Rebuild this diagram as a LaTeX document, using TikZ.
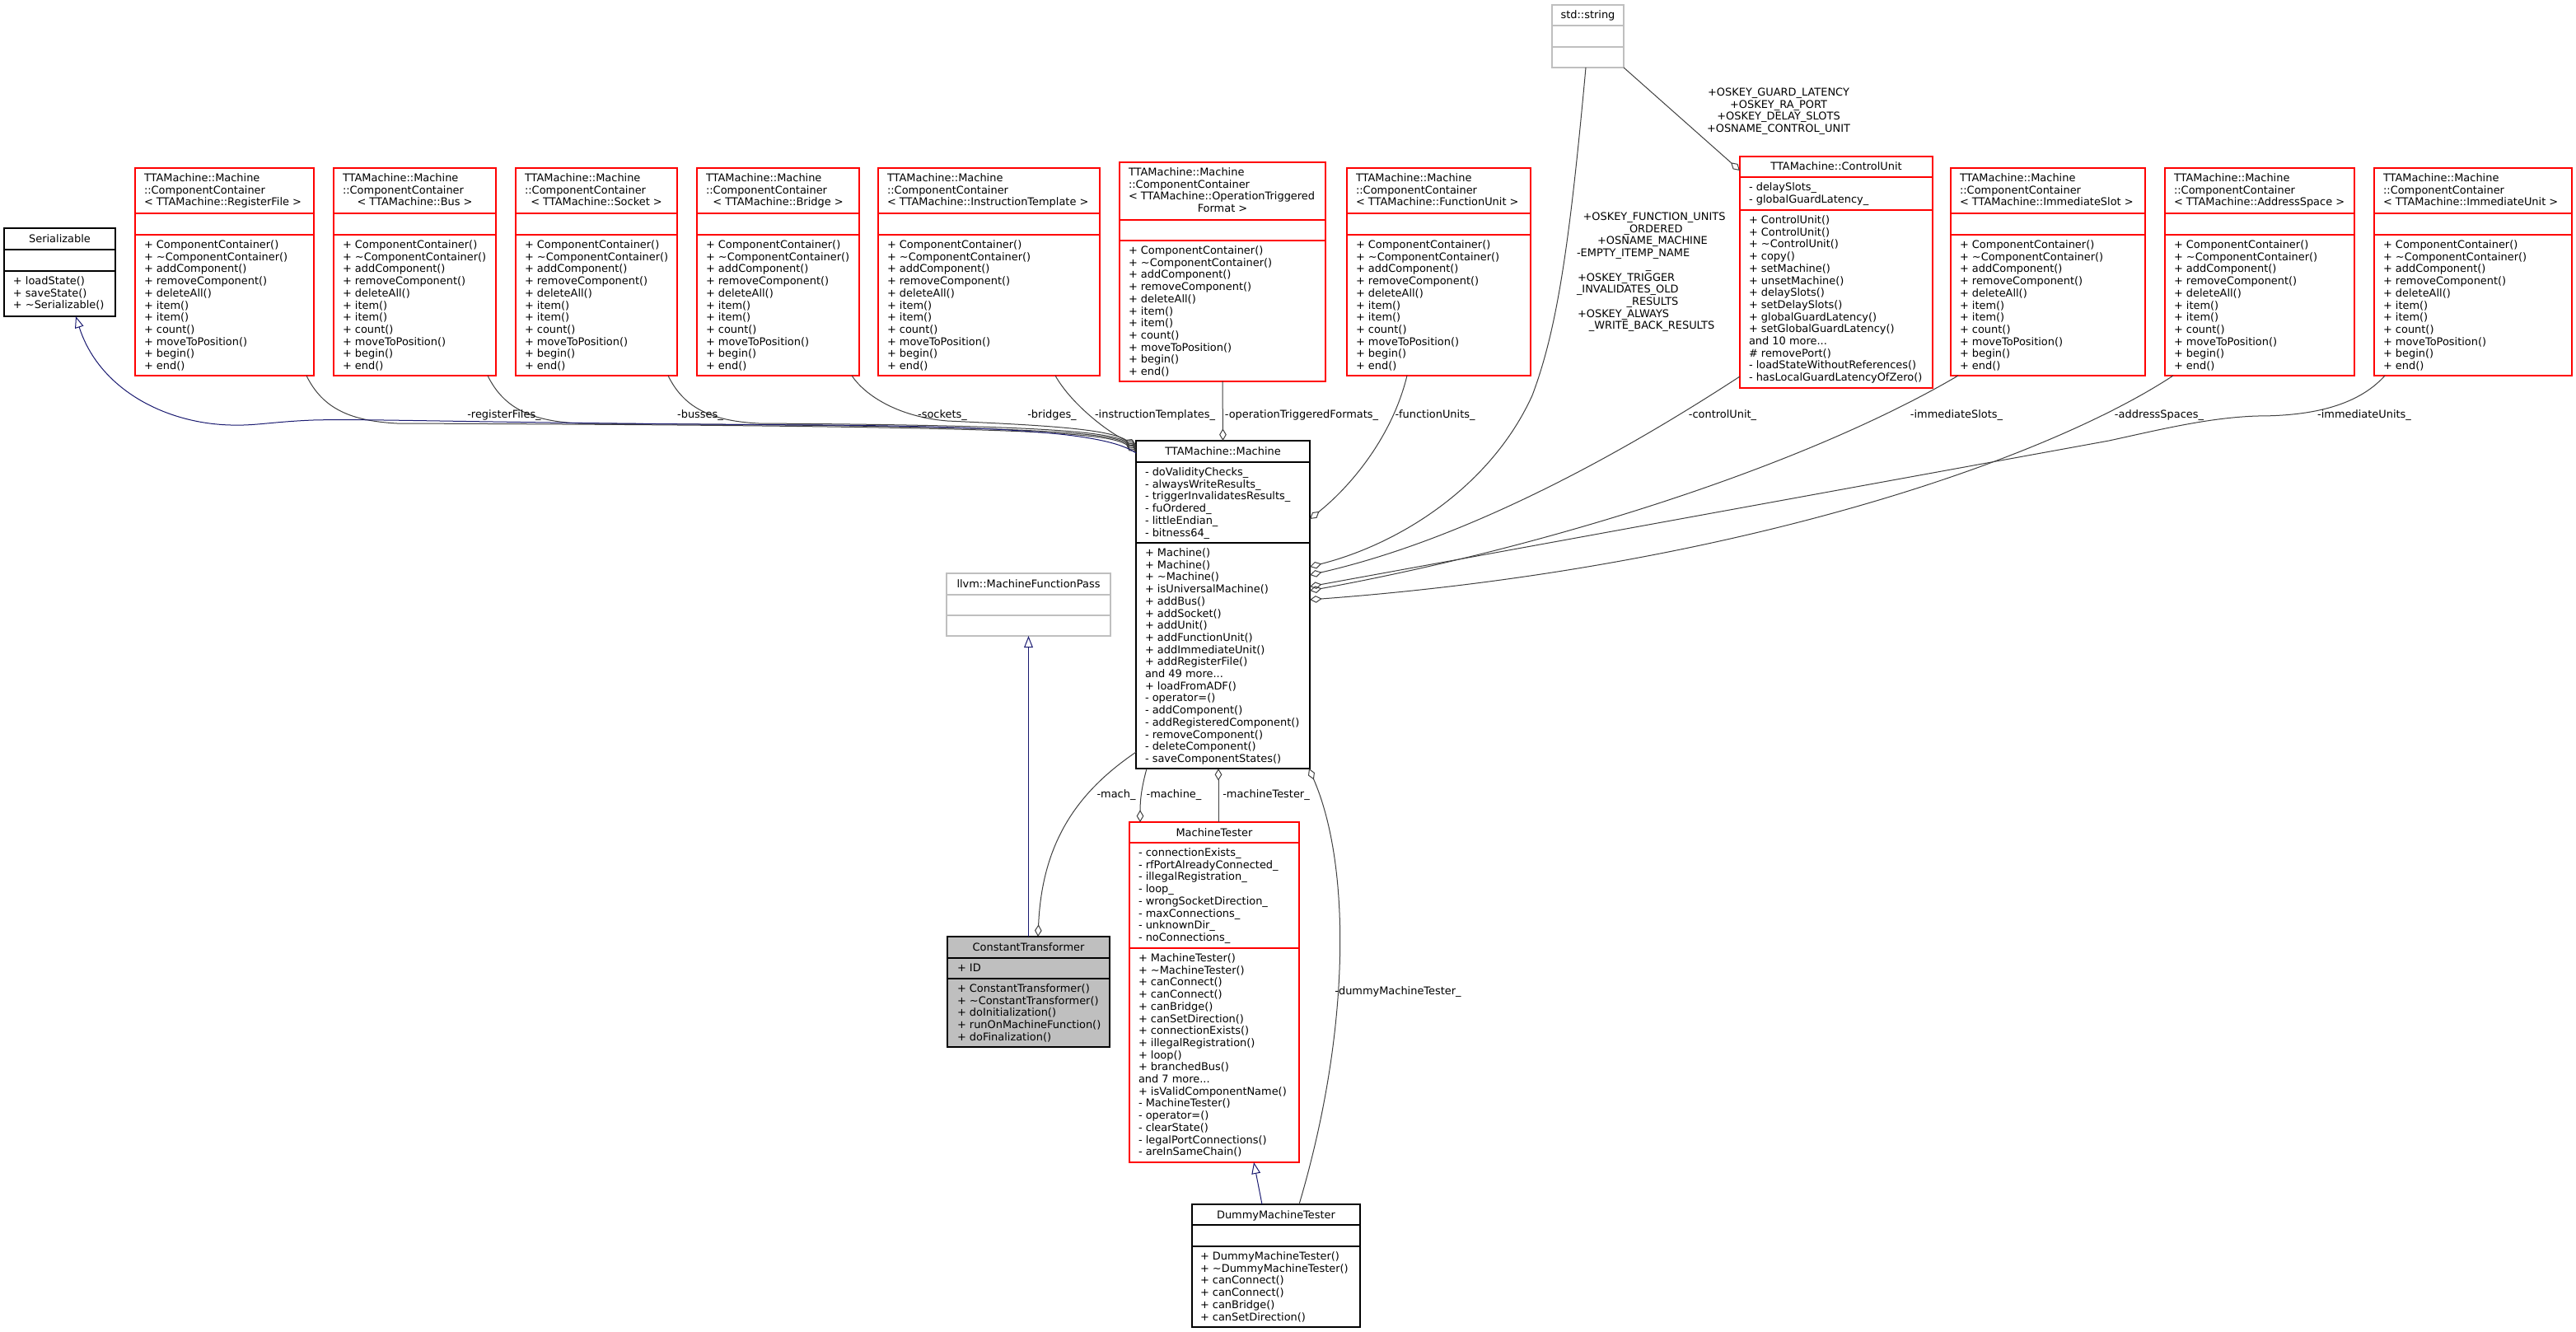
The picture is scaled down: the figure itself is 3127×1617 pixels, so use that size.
\documentclass[tikz,border=0pt]{standalone}
\usepackage{fontspec}
\setmainfont{DejaVu Sans}
\usetikzlibrary{arrows.meta,calc,fit}
\definecolor{edgegray}{HTML}{404040}
\definecolor{inhblue}{HTML}{191970}
\definecolor{greyfill}{HTML}{BFBFBF}
\definecolor{boxred}{HTML}{FF0000}
\newcommand\mdots{...}
\newcommand\cbox[8]{%
  \node[#2, fit={(#3,#4) (#5,#6)}] (#1) {};
  \draw[#2 sep] (#3,#7) -- (#5,#7) (#3,#8) -- (#5,#8);}
\newcommand\memb[4]{%
  \foreach \ltext [count=\lnum from 0] in {#4} {%
    \node[txt, anchor=base west] (#1-\lnum) at (#2, {#3+4.5+\lnum*14.7}) {\ltext};}}
\newcommand\ctext[4]{\node[txt, anchor=base] (#1) at (#2, {#3+4.5}) {#4};}
\newcommand\ccmeth[3]{\memb{#1}{#2}{#3}{{+ ComponentContainer()},{+ \textasciitilde ComponentContainer()},{+ addComponent()},{+ removeComponent()},{+ deleteAll()},{+ item()},{+ item()},{+ count()},{+ moveToPosition()},{+ begin()},{+ end()}}}
\begin{document}
\begin{tikzpicture}[x=0.75pt, y=-0.75pt,
  txt/.style={inner sep=0pt, outer sep=0pt, font=\fontsize{9.7}{11}\selectfont},
  redbox/.style={draw=boxred, line width=0.85pt, inner sep=0pt, outer sep=0pt, rectangle},
  redbox sep/.style={draw=boxred, line width=0.85pt},
  blackbox/.style={draw=black, line width=0.85pt, inner sep=0pt, outer sep=0pt, rectangle},
  blackbox sep/.style={draw=black, line width=0.85pt},
  greybox/.style={draw=greyfill, line width=0.85pt, inner sep=0pt, outer sep=0pt, rectangle},
  greybox sep/.style={draw=greyfill, line width=0.85pt},
  ctbox/.style={draw=black, fill=greyfill, line width=0.85pt, inner sep=0pt, outer sep=0pt, rectangle},
  ctbox sep/.style={draw=black, line width=0.85pt},
  agg/.style={draw=edgegray, line width=0.75pt, -{Diamond[open, length=11pt, width=6.5pt]}},
  inh/.style={draw=inhblue, line width=0.75pt, -{Triangle[open, length=10.5pt, width=8pt]}}
]
\fill[white] (0,0) rectangle (3127,1617);
\useasboundingbox (0,0) rectangle (3127,1617);

% ---------- Serializable
\cbox{ser}{blackbox}{5}{277}{140}{384}{303}{329}
\ctext{serh}{72.5}{290}{Serializable}
\memb{serm}{16}{341}{{+ loadState()},{+ saveState()},{+ \textasciitilde Serializable()}}

% ---------- Component containers
\cbox{rf}{redbox}{164}{204}{381}{456}{259}{285}
\memb{rfh}{175}{216}{{TTAMachine::Machine},{::ComponentContainer},{< TTAMachine::RegisterFile >}}
\ccmeth{rfm}{175}{297}

\cbox{bus}{redbox}{405}{204}{602}{456}{259}{285}
\memb{bush}{416}{216}{{TTAMachine::Machine},{::ComponentContainer}}
\ctext{bush3}{503.5}{245.4}{< TTAMachine::Bus >}
\ccmeth{busm}{416}{297}

\cbox{sock}{redbox}{626}{204}{822}{456}{259}{285}
\memb{sockh}{637}{216}{{TTAMachine::Machine},{::ComponentContainer}}
\ctext{sockh3}{724}{245.4}{< TTAMachine::Socket >}
\ccmeth{sockm}{637}{297}

\cbox{brg}{redbox}{846}{204}{1043}{456}{259}{285}
\memb{brgh}{857}{216}{{TTAMachine::Machine},{::ComponentContainer}}
\ctext{brgh3}{944.5}{245.4}{< TTAMachine::Bridge >}
\ccmeth{brgm}{857}{297}

\cbox{it}{redbox}{1066}{204}{1335}{456}{259}{285}
\memb{ith}{1077}{216}{{TTAMachine::Machine},{::ComponentContainer},{< TTAMachine::InstructionTemplate >}}
\ccmeth{itm}{1077}{297}

\cbox{otf}{redbox}{1359}{197}{1609}{463}{267}{292}
\memb{otfh}{1370}{209}{{TTAMachine::Machine},{::ComponentContainer},{< TTAMachine::OperationTriggered}}
\ctext{otfh4}{1484}{253.1}{Format >}
\ccmeth{otfm}{1370}{304}

\cbox{fu}{redbox}{1635}{204}{1858}{456}{259}{285}
\memb{fuh}{1646}{216}{{TTAMachine::Machine},{::ComponentContainer},{< TTAMachine::FunctionUnit >}}
\ccmeth{fum}{1646}{297}

\cbox{isl}{redbox}{2368}{204}{2604}{456}{259}{285}
\memb{islh}{2379}{216}{{TTAMachine::Machine},{::ComponentContainer},{< TTAMachine::ImmediateSlot >}}
\ccmeth{islm}{2379}{297}

\cbox{as}{redbox}{2628}{204}{2858}{456}{259}{285}
\memb{ash}{2639}{216}{{TTAMachine::Machine},{::ComponentContainer},{< TTAMachine::AddressSpace >}}
\ccmeth{asm}{2639}{297}

\cbox{iu}{redbox}{2882}{204}{3122}{456}{259}{285}
\memb{iuh}{2893}{216}{{TTAMachine::Machine},{::ComponentContainer},{< TTAMachine::ImmediateUnit >}}
\ccmeth{ium}{2893}{297}

% ---------- std::string
\cbox{str}{greybox}{1884}{6}{1971}{82}{31}{57}
\ctext{strh}{1927.5}{18}{std::string}

% ---------- ControlUnit
\cbox{cu}{redbox}{2112}{190}{2346}{471}{215}{255}
\ctext{cuh}{2229}{202}{TTAMachine::ControlUnit}
\memb{cua}{2123}{227}{{- delaySlots\_},{- globalGuardLatency\_}}
\memb{cum}{2123}{267}{{+ ControlUnit()},{+ ControlUnit()},{+ \textasciitilde ControlUnit()},{+ copy()},{+ setMachine()},{+ unsetMachine()},{+ delaySlots()},{+ setDelaySlots()},{+ globalGuardLatency()},{+ setGlobalGuardLatency()},{and 10 more\mdots},{\# removePort()},{- loadStateWithoutReferences()},{- hasLocalGuardLatencyOfZero()}}

% ---------- Machine
\cbox{m}{blackbox}{1379}{535}{1590}{933}{561}{659}
\ctext{mh}{1484.5}{548}{TTAMachine::Machine}
\memb{ma}{1390}{573}{{- doValidityChecks\_},{- alwaysWriteResults\_},{- triggerInvalidatesResults\_},{- fuOrdered\_},{- littleEndian\_},{- bitness64\_}}
\memb{mm}{1390}{671}{{+ Machine()},{+ Machine()},{+ \textasciitilde Machine()},{+ isUniversalMachine()},{+ addBus()},{+ addSocket()},{+ addUnit()},{+ addFunctionUnit()},{+ addImmediateUnit()},{+ addRegisterFile()},{and 49 more\mdots},{+ loadFromADF()},{- operator=()},{- addComponent()},{- addRegisteredComponent()},{- removeComponent()},{- deleteComponent()},{- saveComponentStates()}}

% ---------- llvm::MachineFunctionPass
\cbox{llvm}{greybox}{1149}{696}{1348}{772}{722}{747}
\ctext{llvmh}{1248.5}{709}{llvm::MachineFunctionPass}

% ---------- ConstantTransformer
\cbox{ct}{ctbox}{1150}{1137}{1347}{1271}{1163}{1188}
\ctext{cth}{1248.5}{1150}{ConstantTransformer}
\memb{cta}{1162}{1175}{{+ ID}}
\memb{ctm}{1162}{1200}{{+ ConstantTransformer()},{+ \textasciitilde ConstantTransformer()},{+ doInitialization()},{+ runOnMachineFunction()},{+ doFinalization()}}

% ---------- MachineTester
\cbox{mt}{redbox}{1371}{998}{1577}{1411}{1023}{1151}
\ctext{mth}{1474}{1011}{MachineTester}
\memb{mta}{1382}{1035}{{- connectionExists\_},{- rfPortAlreadyConnected\_},{- illegalRegistration\_},{- loop\_},{- wrongSocketDirection\_},{- maxConnections\_},{- unknownDir\_},{- noConnections\_}}
\memb{mtm}{1382}{1163}{{+ MachineTester()},{+ \textasciitilde MachineTester()},{+ canConnect()},{+ canConnect()},{+ canBridge()},{+ canSetDirection()},{+ connectionExists()},{+ illegalRegistration()},{+ loop()},{+ branchedBus()},{and 7 more\mdots},{+ isValidComponentName()},{- MachineTester()},{- operator=()},{- clearState()},{- legalPortConnections()},{- areInSameChain()}}

% ---------- DummyMachineTester
\cbox{dmt}{blackbox}{1447}{1462}{1651}{1611}{1487}{1513}
\ctext{dmth}{1549}{1475}{DummyMachineTester}
\memb{dmtm}{1457}{1525}{{+ DummyMachineTester()},{+ \textasciitilde DummyMachineTester()},{+ canConnect()},{+ canConnect()},{+ canBridge()},{+ canSetDirection()}}

% ================= connectors
% left bundle
\draw[agg] ($(rf.south west)+(208,0)$) .. controls (392,497) and (427,511) .. (482,514)
  .. controls (1230,517) and (1345,524) .. ($(m.north west)+(0,13)$);
\draw[agg] ($(bus.south west)+(187,0)$) .. controls (612,497) and (647,511) .. (702,514)
  .. controls (1230,517) and (1345,523) .. ($(m.north west)+(0,11)$);
\draw[agg] ($(sock.south west)+(185,0)$) .. controls (831,497) and (866,511) .. (921,514)
  .. controls (1230,516) and (1345,522) .. ($(m.north west)+(0,9)$);
\draw[agg] ($(brg.south west)+(188,0)$) .. controls (1050,480) and (1090,506) .. (1150,511)
  .. controls (1260,516) and (1345,520) .. ($(m.north west)+(0,7)$);
\draw[agg] ($(it.south west)+(215,0)$) .. controls (1300,490) and (1345,525) .. ($(m.north west)+(0,5)$);
\draw[inh] ($(m.north west)+(0,15)$) .. controls (1345,526) and (1230,518) .. (1000,516)
  .. controls (600,514) and (450,508) .. (380,510)
  .. controls (330,512) and (310,517) .. (280,516)
  .. controls (200,514) and (120,472) .. ($(ser.south west)+(87,0)$);
\draw[agg] (otf.south) -- (m.north);
% right bundle
\draw[agg] ($(fu.south west)+(73,0)$) .. controls (1690,530) and (1640,590) .. ($(m.north east)+(0,95)$);
\draw[agg] ($(str.south west)+(41,0)$) .. controls (1905,300) and (1890,400) .. (1860,480)
  .. controls (1810,590) and (1700,660) .. ($(m.north east)+(0,153)$);
\draw[agg] ($(cu.south west)+(0,-14)$) .. controls (2000,530) and (1800,650) .. ($(m.north east)+(0,163)$);
\draw[agg] ($(isl.south west)+(9,0)$) .. controls (2200,560) and (1900,660) .. ($(m.north east)+(0,182)$);
\draw[agg] ($(as.south west)+(10,0)$) .. controls (2480,560) and (2100,690) .. ($(m.north east)+(0,193)$);
\draw[agg] ($(iu.south west)+(13,0)$) .. controls (2860,495) and (2800,505) .. (2740,505)
  .. controls (2680,507) and (2620,522) .. (2560,535) -- ($(m.north east)+(0,177)$);
\draw[agg] (str.south east) -- ($(cu.north west)+(0,17)$);
% lower
\draw[agg] ($(m.south west)+(0,-20)$) .. controls (1310,960) and (1265,1020) .. ($(ct.north west)+(110,0)$);
\draw[agg] ($(m.south west)+(13,0)$) .. controls (1386,955) and (1384,970) .. ($(mt.north west)+(13,0)$);
\draw[agg] ($(mt.north west)+(108,0)$) -- ($(m.south west)+(100,0)$);
\draw[agg] ($(dmt.north west)+(130,0)$) .. controls (1640,1250) and (1640,1050) .. ($(m.south east)+(-1,0)$);
\draw[inh] ($(dmt.north west)+(85,0)$) -- ($(mt.south west)+(151,0)$);
\draw[inh] (ct.north) -- (llvm.south);

% ================= connector labels
\ctext{l-rf}{612}{503}{-registerFiles\_}
\ctext{l-bus}{850}{503}{-busses\_}
\ctext{l-sock}{1144}{503}{-sockets\_}
\ctext{l-brg}{1277}{503}{-bridges\_}
\ctext{l-it}{1402}{503}{-instructionTemplates\_}
\ctext{l-otf}{1580}{503}{-operationTriggeredFormats\_}
\ctext{l-fu}{1742}{503}{-functionUnits\_}
\ctext{l-cu}{2091}{503}{-controlUnit\_}
\ctext{l-isl}{2375}{503}{-immediateSlots\_}
\ctext{l-as}{2621}{503}{-addressSpaces\_}
\ctext{l-iu}{2870}{503}{-immediateUnits\_}
\ctext{l-cus0}{2159}{112}{+OSKEY\_GUARD\_LATENCY}
\ctext{l-cus1}{2159}{126.7}{+OSKEY\_RA\_PORT}
\ctext{l-cus2}{2159}{141.4}{+OSKEY\_DELAY\_SLOTS}
\ctext{l-cus3}{2159}{156.1}{+OSNAME\_CONTROL\_UNIT}
\ctext{l-s0}{2008}{263}{+OSKEY\_FUNCTION\_UNITS}
\ctext{l-s1}{2007}{277.7}{\_ORDERED}
\ctext{l-s2}{2006}{292.4}{+OSNAME\_MACHINE}
\node[txt, anchor=base west] (l-s3) at (1914, 311.6) {-EMPTY\_ITEMP\_NAME};
\ctext{l-s4}{2001}{321.8}{\_}
\node[txt, anchor=base west] (l-s5) at (1915, 341) {+OSKEY\_TRIGGER};
\node[txt, anchor=base west] (l-s6) at (1914, 355.7) {\_INVALIDATES\_OLD};
\ctext{l-s7}{2006}{365.9}{\_RESULTS}
\node[txt, anchor=base west] (l-s8) at (1915, 385.1) {+OSKEY\_ALWAYS};
\ctext{l-s9}{2005}{395.3}{\_WRITE\_BACK\_RESULTS}
\ctext{l-mach}{1355}{964}{-mach\_}
\ctext{l-machine}{1425}{964}{-machine\_}
\ctext{l-mtest}{1537}{964}{-machineTester\_}
\ctext{l-dmt}{1697}{1203}{-dummyMachineTester\_}
\end{tikzpicture}
\end{document}
